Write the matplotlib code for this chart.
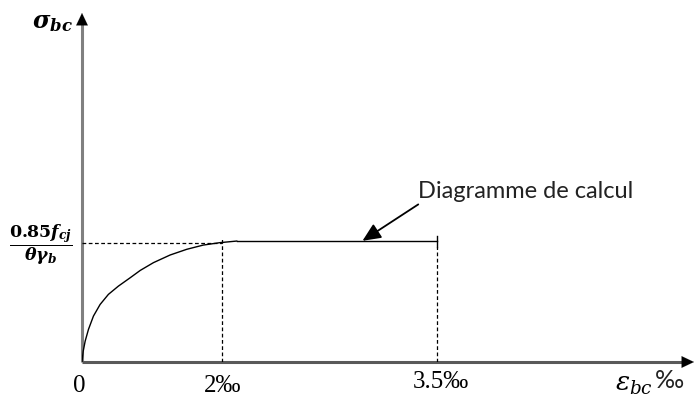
import numpy as np
import matplotlib
matplotlib.use("Agg")
import matplotlib.pyplot as plt

# ---- data (stress normalised to plateau = 1) ----
curve_eps = [0.0, 0.017, 0.045, 0.092, 0.163, 0.258, 0.376, 0.518, 0.688, 0.830,
             1.018, 1.255, 1.492, 1.728, 1.965, 2.10]
curve_sig = [0.0, 0.089, 0.172, 0.269, 0.379, 0.475, 0.558, 0.626, 0.696, 0.756,
             0.820, 0.883, 0.930, 0.965, 0.985, 0.998]
plateau_eps = [2.10, 3.5]
plateau_sig = [1.0, 1.0]
tick_vals = [0, 2, 3.5]
tick_labels = ["0", "2‰", "3.5‰"]
sigma_level = 0.98
x_max = 5.30
y_max = 2.88

W, H = 694, 399

# schematic (non-proportional) x axis
K = 2.035
def fwd(x):
    x = np.asarray(x, dtype=float)
    return np.where(x <= 2, x, 2 + (x - 2) * K)
def inv(x):
    x = np.asarray(x, dtype=float)
    return np.where(x <= 2, x, 2 + (x - 2) / K)

fig = plt.figure(figsize=(W / 100, H / 100), dpi=100)
ax = fig.add_axes([82 / W, 37 / H, 612 / W, 349 / H])
ax.set_xscale('function', functions=(fwd, inv))
ax.set_xlim(0, x_max)
ax.set_ylim(0, y_max)
ax.axis('off')

def fx(px):
    return px / W
def fy(py):
    return 1 - py / H

# axes lines with arrows
ax.plot([0, 0], [0, y_max - 0.09], color='#808080', lw=2.2, clip_on=False, solid_capstyle='butt')
ax.annotate('', xy=(0, y_max), xytext=(0, y_max - 0.1), annotation_clip=False,
            arrowprops=dict(arrowstyle='-|>,head_length=0.8,head_width=0.38', color='black',
                            lw=0.1, shrinkA=0, shrinkB=0, mutation_scale=11))
ax.plot([0, x_max - 0.05], [0, 0], color='#595959', lw=2.2, clip_on=False, solid_capstyle='butt')
ax.annotate('', xy=(x_max, 0), xytext=(x_max - 0.05, 0), annotation_clip=False,
            arrowprops=dict(arrowstyle='-|>,head_length=0.8,head_width=0.38', color='black',
                            lw=0.1, shrinkA=0, shrinkB=0, mutation_scale=11))

# curve and plateau
ax.plot(curve_eps, curve_sig, color='black', lw=1.0, solid_joinstyle='round')
ax.plot(plateau_eps, plateau_sig, color='black', lw=1.0)
ax.plot([3.5, 3.5], [0.95, 1.04], color='black', lw=1.0)

# dashed guide lines
dash = dict(color='black', lw=0.9, ls=(0, (3, 2)))
ax.plot([0, 2], [sigma_level, sigma_level], **dash)
ax.plot([2, 2], [0, 1.02], **dash)
ax.plot([3.5, 3.5], [0, 0.95], **dash)

# tick labels (x from data, y offset below axis)
trans = ax.get_xaxis_transform()
offs = [-0.069, -0.068, -0.058]
dxs = [-0.04, 0.0, 0.03]
for v, lab, o, d in zip(tick_vals, tick_labels, offs, dxs):
    ax.text(v + d, o, lab, ha='center', va='center', fontsize=18,
            family='Liberation Serif', transform=trans, clip_on=False)

# axis titles
fig.text(fx(52), fy(22), r'$\mathbfit{\sigma_{bc}}$', ha='center', va='center',
         fontsize=17, math_fontfamily='dejavuserif')
fig.text(fx(41), fy(245), r'$\dfrac{\mathbf{0.85}\mathbfit{f_{cj}}}{\mathbfit{\theta\gamma_b}}$',
         ha='center', va='center', fontsize=12.5, math_fontfamily='dejavuserif')
fig.text(fx(615), fy(384), r'$\varepsilon_{bc}$', ha='left', va='center', fontsize=19,
         math_fontfamily='dejavuserif')
fig.text(fx(655), fy(380), '‰', ha='left', va='center', fontsize=18,
         family='Lato', color='#222222')

# annotation
ax.annotate('Diagramme de calcul', xy=(2.98, 1.0), xytext=(3.37, 1.41),
            fontsize=17, family='Lato', color='#222222', ha='left', va='center',
            arrowprops=dict(arrowstyle='-|>,head_length=1.0,head_width=0.45', color='black',
                            lw=1.3, shrinkA=0, shrinkB=0, relpos=(0.02, 0.0),
                            mutation_scale=11))

fig.savefig('out.png', dpi=100)
